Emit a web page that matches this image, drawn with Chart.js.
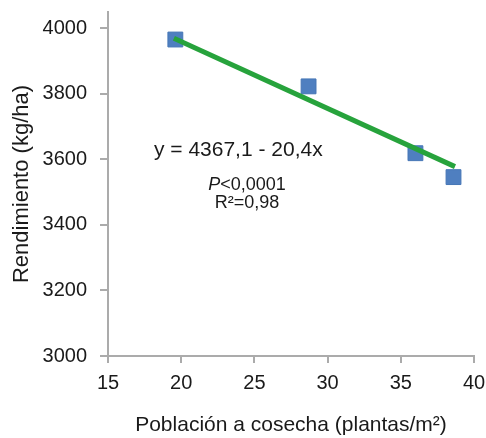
<!DOCTYPE html>
<html>
<head>
<meta charset="utf-8">
<script src="https://cdn.jsdelivr.net/npm/chart.js@4.4.1/dist/chart.umd.min.js"></script>
<style>
  html, body { margin: 0; padding: 0; background: #ffffff; }
  #wrap { width: 486px; height: 438px; }
</style>
</head>
<body>
<div id="wrap"><canvas id="chart"></canvas></div>
<script>
// plant population at harvest (plants/m2) and yield (kg/ha)
const poblacion = [19.6, 28.7, 36.0, 38.6];
const rendimiento = [3966, 3823, 3619, 3546];

// fitted line y = 4367,1 - 20,4x, end points as drawn
const lineaX = [19.5, 38.7];
const lineaY = [3970, 3578];

const xTicks = [15, 20, 25, 30, 35, 40];
const yTicks = [3000, 3200, 3400, 3600, 3800, 4000];

const AXIS_GRAY = "#ababab";
const TEXT = "#1a1a1a";
const FONT = "'Liberation Sans', Arial, sans-serif";

function toPoints(xs, ys) {
  return xs.map((x, i) => ({ x, y: ys[i] }));
}

const notesPlugin = {
  id: "notes",
  afterDatasetsDraw(chart) {
    const ctx = chart.ctx;
    const x = chart.scales.x;
    const y = chart.scales.y;

    ctx.save();
    ctx.fillStyle = TEXT;
    ctx.textBaseline = "middle";
    ctx.textAlign = "center";

    ctx.font = `21px ${FONT}`;
    ctx.fillText("y = 4367,1 - 20,4x", x.getPixelForValue(23.9), y.getPixelForValue(3629));

    // P<0,0001 with italic P
    const px = x.getPixelForValue(24.5);
    const py = y.getPixelForValue(3522);
    ctx.font = `italic 18px ${FONT}`;
    const wP = ctx.measureText("P").width;
    ctx.font = `18px ${FONT}`;
    const wRest = ctx.measureText("<0,0001").width;
    const start = px - (wP + wRest) / 2;
    ctx.textAlign = "left";
    ctx.font = `italic 18px ${FONT}`;
    ctx.fillText("P", start, py);
    ctx.font = `18px ${FONT}`;
    ctx.fillText("<0,0001", start + wP, py);

    ctx.textAlign = "center";
    ctx.fillText("R²=0,98", x.getPixelForValue(24.5), y.getPixelForValue(3467));
    ctx.restore();
  }
};

new Chart(document.getElementById("chart"), {
  type: "scatter",
  data: {
    datasets: [
      {
        type: "line",
        label: "Ajuste",
        data: toPoints(lineaX, lineaY),
        borderColor: "#27a33c",
        borderWidth: 5,
        pointRadius: 0,
        fill: false,
        order: 0
      },
      {
        label: "Rendimiento",
        data: toPoints(poblacion, rendimiento),
        pointStyle: "rect",
        pointRadius: 10.5,
        backgroundColor: "#4f7fc0",
        borderColor: "#4676b6",
        borderWidth: 1,
        order: 1
      }
    ]
  },
  options: {
    responsive: true,
    maintainAspectRatio: false,
    animation: false,
    layout: {
      padding: { top: 12, right: 12, bottom: 0, left: 0 }
    },
    plugins: {
      legend: { display: false },
      tooltip: { enabled: false }
    },
    scales: {
      x: {
        type: "linear",
        min: 15,
        max: 40,
        afterBuildTicks: scale => {
          scale.ticks = xTicks.map(value => ({ value }));
        },
        afterFit: scale => {
          scale.height = 82;
          scale.paddingLeft = 0;
          scale.paddingRight = 0;
        },
        ticks: {
          color: TEXT,
          padding: 8,
          callback: value => String(value),
          font: { family: FONT, size: 20 }
        },
        grid: {
          drawOnChartArea: false,
          drawTicks: true,
          tickLength: 7,
          color: AXIS_GRAY,
          lineWidth: 2
        },
        border: { display: true, color: AXIS_GRAY, width: 2 },
        title: {
          display: true,
          text: "Población a cosecha (plantas/m²)",
          color: TEXT,
          padding: { top: 0, bottom: 0 },
          font: { family: FONT, size: 21 }
        }
      },
      y: {
        type: "linear",
        min: 3000,
        max: 4050,
        afterBuildTicks: scale => {
          scale.ticks = yTicks.map(value => ({ value }));
        },
        afterFit: scale => {
          scale.width = 108;
          scale.paddingTop = 0;
          scale.paddingBottom = 0;
        },
        ticks: {
          color: TEXT,
          padding: 13,
          callback: value => String(value),
          font: { family: FONT, size: 20 }
        },
        grid: {
          drawOnChartArea: false,
          drawTicks: true,
          tickLength: 8,
          color: AXIS_GRAY,
          lineWidth: 2
        },
        border: { display: true, color: AXIS_GRAY, width: 2 },
        title: {
          display: true,
          text: "Rendimiento (kg/ha)",
          color: TEXT,
          padding: { top: 9, bottom: 0 },
          font: { family: FONT, size: 22 }
        }
      }
    }
  },
  plugins: [notesPlugin]
});
</script>
</body>
</html>
